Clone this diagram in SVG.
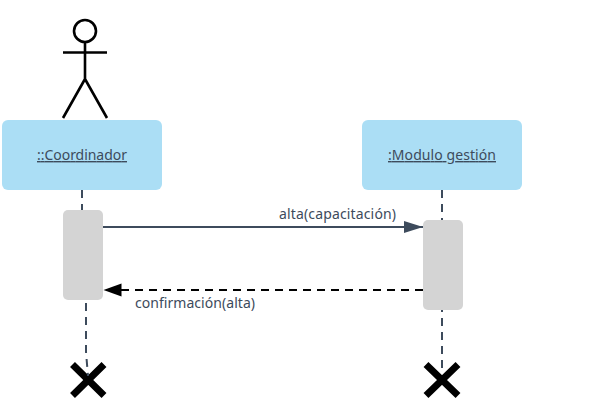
<svg xmlns="http://www.w3.org/2000/svg" width="615" height="410" viewBox="0 0 615 410">
<style>
text{font-family:"Noto Sans","Liberation Sans",sans-serif;font-size:14px;fill:#3d4b5c}
.u{text-decoration:underline;text-anchor:middle}
.box{fill:#abdef5}
.act{fill:#d4d4d4}
.life{fill:none;stroke:#3d4b5c;stroke-width:2;stroke-dasharray:8 6}
.blk{fill:none;stroke:#000;stroke-width:2.6}
.x{fill:none;stroke:#000;stroke-width:7}
</style>
<defs>
<marker id="a1" markerUnits="userSpaceOnUse" markerWidth="20" markerHeight="14" refX="19" refY="6" orient="auto"><path d="M0 0L19 6L0 12z" fill="#3d4b5c"/></marker>
<marker id="a2" markerUnits="userSpaceOnUse" markerWidth="20" markerHeight="14" refX="18" refY="6.5" orient="auto"><path d="M0 0L18 6.500L0 13z" fill="#000"/></marker>
</defs>
<g id="x-left"><path class="x" d="M72.500 364.500L104 395.500M104 364.500L72.500 395.500"/></g>
<g id="x-right"><path class="x" d="M426 364.500L458 395.500M458 364.500L426 395.500"/></g>
<g id="connectors">
<path class="life" d="M82 190V210"/>
<path class="life" d="M442 190V220"/>
<path class="life" d="M86 303V352L88 376"/>
<path class="life" d="M442 304V373"/>
<path d="M103 227H423" fill="none" stroke="#3d4b5c" stroke-width="2" marker-end="url(#a1)"/>
<path d="M423 290H103.500" fill="none" stroke="#000" stroke-width="2" stroke-dasharray="8 6" marker-end="url(#a2)"/>
<text id="label-alta" x="279" y="219" textLength="117" lengthAdjust="spacing">alta(capacitación)</text>
<text id="label-conf" x="135" y="308" textLength="120" lengthAdjust="spacing">confirmación(alta)</text>
</g>
<g id="actor">
<circle class="blk" cx="85" cy="31" r="11"/>
<path class="blk" d="M85 42V79M63 52.500H107M63 118L85 79L107 118"/>
</g>
<g id="coordinador">
<rect class="box" x="2" y="120" width="160" height="70" rx="6"/>
<text class="u" x="82" y="160" textLength="90" lengthAdjust="spacing">::Coordinador</text>
</g>
<g id="modulo">
<rect class="box" x="362" y="120" width="160" height="70" rx="6"/>
<text class="u" x="442" y="160" textLength="108" lengthAdjust="spacing">:Modulo gestión</text>
</g>
<g id="act-left"><rect class="act" x="63" y="210" width="40" height="90" rx="5"/></g>
<g id="act-right"><rect class="act" x="423" y="220" width="40" height="90" rx="5"/></g>
</svg>
